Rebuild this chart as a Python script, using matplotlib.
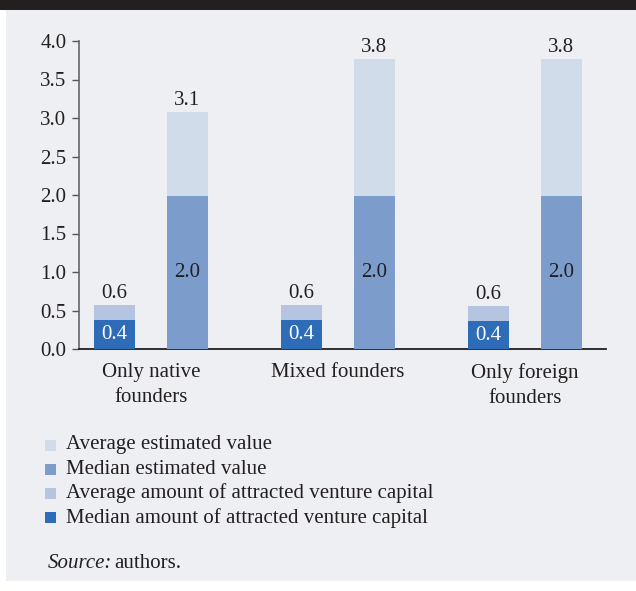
import matplotlib.pyplot as plt
from matplotlib.patches import Rectangle
import numpy as np

# data
groups = ["Only native\nfounders", "Mixed founders", "Only foreign\nfounders"]
avg_vc = [0.57, 0.57, 0.56]       # average amount of attracted venture capital
med_vc = [0.38, 0.38, 0.36]       # median amount of attracted venture capital
avg_est = [3.08, 3.77, 3.77]      # average estimated value
med_est = [1.99, 1.99, 1.99]      # median estimated value
legend_labels = ["Average estimated value",
                 "Median estimated value",
                 "Average amount of attracted venture capital",
                 "Median amount of attracted venture capital"]

c_avg_est = "#d1dcea"
c_med_est = "#7c9ccc"
c_avg_vc = "#b5c5e1"
c_med_vc = "#2e6cb8"
bg = "#eeeff3"
txt = "#231f20"

plt.rcParams["font.family"] = ["Liberation Serif", "DejaVu Serif"]

fig = plt.figure(figsize=(6.36, 5.91), dpi=100, facecolor="white")
# panel background and black top rule
fig.patches.append(Rectangle((6 / 636, 10 / 591), 1 - 6 / 636, 1 - 20 / 591,
                             transform=fig.transFigure, facecolor=bg, edgecolor="none", zorder=-2))
fig.patches.append(Rectangle((0, 1 - 10 / 591), 1, 10 / 591,
                             transform=fig.transFigure, facecolor="#231f20", edgecolor="none", zorder=-2))

ax = fig.add_axes([79 / 636, 1 - 349 / 591, (606 - 79) / 636, (349 - 41) / 591])
ax.set_facecolor("none")
ax.set_zorder(2)

x = np.arange(len(groups))
off = 0.195
w = 0.22

# narrow bars: venture capital (average drawn full height, median over it)
ax.bar(x - off, avg_vc, w, color=c_avg_vc, zorder=2)
ax.bar(x - off, med_vc, w, color=c_med_vc, zorder=3)
# wide bars: estimated value
ax.bar(x + off, avg_est, w, color=c_avg_est, zorder=2)
ax.bar(x + off, med_est, w, color=c_med_est, zorder=3)

fs = 15
for i in range(len(groups)):
    ax.annotate(f"{avg_vc[i]:.1f}", (x[i] - off, avg_vc[i]), xytext=(0, 1.5),
                textcoords="offset points", ha="center", va="bottom", fontsize=fs, color=txt)
    ax.text(x[i] - off, med_vc[i] / 2, f"{med_vc[i]:.1f}", ha="center", va="center",
            fontsize=fs, color="white", zorder=4)
    ax.annotate(f"{avg_est[i]:.1f}", (x[i] + off, avg_est[i]), xytext=(0, 1.5),
                textcoords="offset points", ha="center", va="bottom", fontsize=fs, color=txt)
    ax.text(x[i] + off, med_est[i] / 2, f"{med_est[i]:.1f}", ha="center", va="center",
            fontsize=fs, color=txt, zorder=4)

ax.set_xlim(-0.385, 2.433)
ax.set_ylim(0, 4)
ax.set_yticks(np.arange(0, 4.01, 0.5))
ax.set_yticklabels([f"{v:.1f}" for v in np.arange(0, 4.01, 0.5)])
ax.set_xticks(x)
ax.set_xticklabels(groups, linespacing=1.45)
ax.tick_params(axis="x", length=0, pad=10, labelsize=fs, labelcolor=txt)
ax.tick_params(axis="y", length=5, width=1, color="#555555", pad=4, labelsize=fs, labelcolor=txt)
for s in ["top", "right"]:
    ax.spines[s].set_visible(False)
ax.spines["left"].set_color("#666666")
ax.spines["left"].set_linewidth(1.2)
ax.spines["bottom"].set_color("#231f20")
ax.spines["bottom"].set_linewidth(1.3)

# legend drawn by hand
leg_colors = [c_avg_est, c_med_est, c_avg_vc, c_med_vc]
for k, (lab, col) in enumerate(zip(legend_labels, leg_colors)):
    yc = 445 + k * 24.2
    fig.patches.append(Rectangle((45 / 636, 1 - (yc + 5.5) / 591), 11 / 636, 11 / 591,
                                 transform=fig.transFigure, facecolor=col, edgecolor="none"))
    fig.text(66 / 636, 1 - yc / 591, lab, ha="left", va="center", fontsize=fs, color=txt)

fig.text(48 / 636, 1 - 563 / 591, "Source:", ha="left", va="center", fontsize=fs,
         color=txt, style="italic")
fig.text(114 / 636, 1 - 563 / 591, "authors.", ha="left", va="center", fontsize=fs, color=txt)

fig.savefig("out.png", dpi=100, facecolor=fig.get_facecolor())
